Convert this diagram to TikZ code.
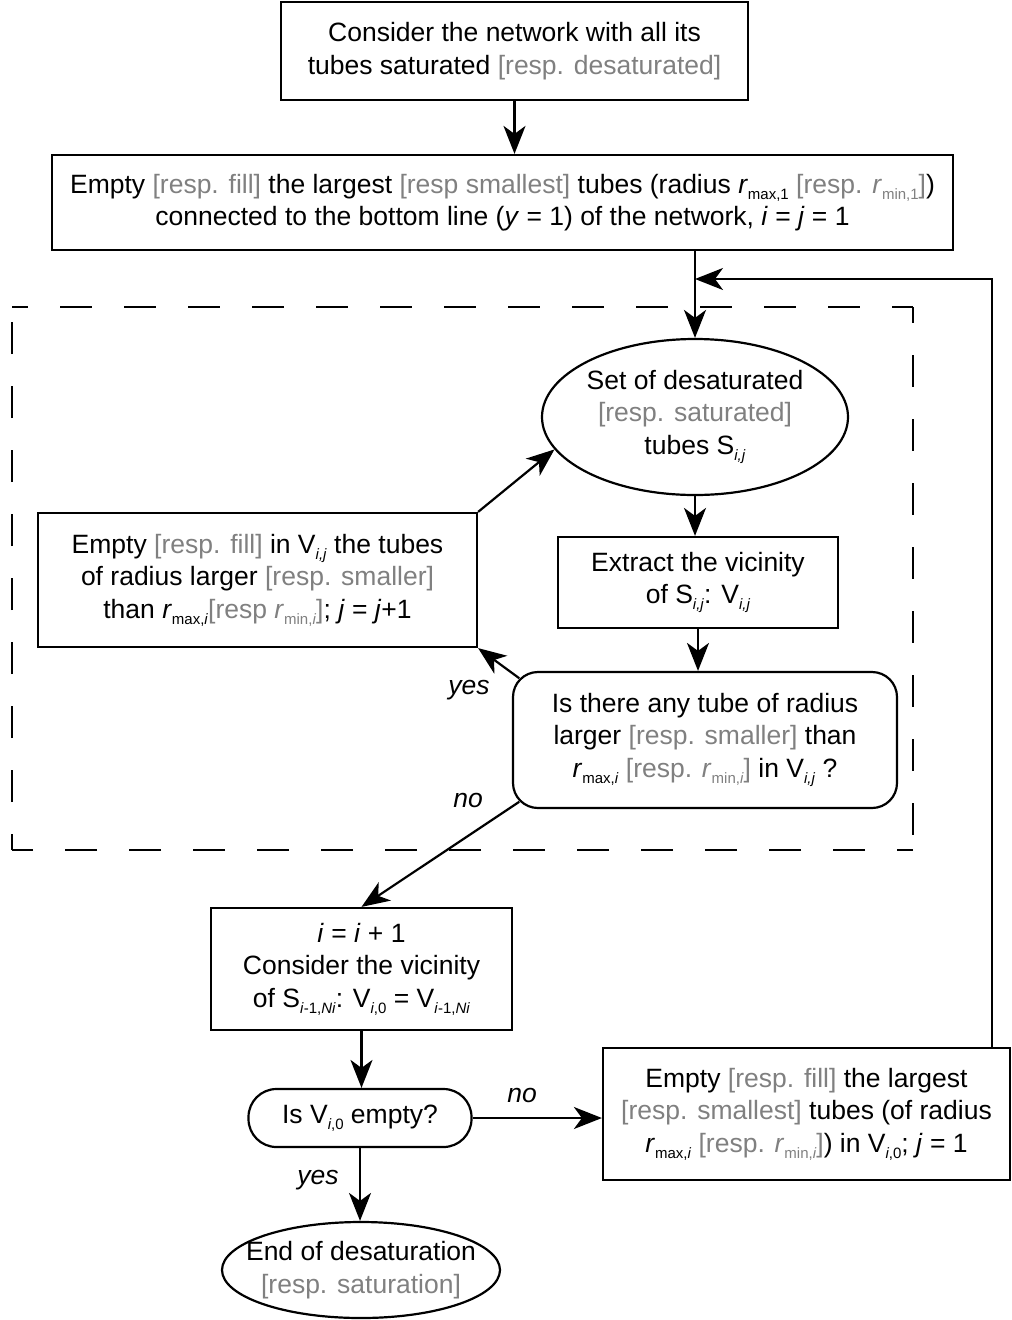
\documentclass[tikz,border=0pt]{standalone}
\usepackage{fontspec}
\setmainfont{Liberation Sans}
\usetikzlibrary{arrows.meta,shapes.geometric,calc}
\definecolor{respgray}{gray}{0.5}
\newcommand{\resp}[1]{\textcolor{respgray}{#1}}
\newcommand{\sbs}[1]{\raisebox{-0.45ex}{\fontsize{15}{15}\selectfont #1}}
\tikzset{
  box/.style={draw, line width=2.2pt, inner sep=0pt, align=center},
  roundbox/.style={box, rounded corners=25pt},
  pill/.style={box, rounded corners=28pt},
  ell/.style={draw, ellipse, line width=2.2pt, inner sep=-30pt, align=center},
  arr/.style={line width=2.2pt, -{Stealth[length=28pt,width=22pt,inset=8pt]}},
  frame/.style={line width=2.2pt, dash pattern=on 32pt off 32pt, dash phase=16pt},
  lbl/.style={font=\fontsize{26.5}{32.5}\selectfont\itshape},
}
\begin{document}
\begin{tikzpicture}[x=1pt, y=-1pt, font=\fontsize{26.5}{32.5}\selectfont]
  \useasboundingbox (0,0) rectangle (1012,1320);

  % dashed loop frame
  \draw[frame] (12,307) -- (913,307);
  \draw[frame] (913,307) -- (913,850);
  \draw[frame] (913,850) -- (12,850);
  \draw[frame] (12,850) -- (12,307);

  \node (start) at (514.5, 51) [box, minimum width=467, minimum height=98]
    {Consider the network with all its\\ tubes saturated \resp{[resp. desaturated]}};
  \node (first) at (502.5, 202.5) [box, minimum width=901, minimum height=95]
    {Empty \resp{[resp. fill]} the largest \resp{[resp smallest]} tubes (radius \textit{r}\sbs{max,1} \resp{[resp. \textit{r}\sbs{min,1}]})\\
     connected to the bottom line (\textit{y} = 1) of the network, \textit{i} = \textit{j} = 1};

  \node (setS) at (695, 417) [ell, minimum width=306, minimum height=156]
    {Set of desaturated\\ \resp{[resp. saturated]}\\ tubes S\sbs{\textit{i,j}}};
  \node (extract) at (698, 582.5) [box, minimum width=280, minimum height=91]
    {Extract the vicinity\\ of S\sbs{\textit{i,j}}: V\sbs{\textit{i,j}}};
  \node (isthere) at (705, 740) [roundbox, minimum width=384, minimum height=136]
    {Is there any tube of radius\\ larger \resp{[resp. smaller]} than\\
     \textit{r}\sbs{max,\textit{i}} \resp{[resp. \textit{r}\sbs{min,\textit{i}}]} in V\sbs{\textit{i,j}} ?};
  \node (emptyV) at (257.5, 580) [box, minimum width=439, minimum height=134]
    {Empty \resp{[resp. fill]} in V\sbs{\textit{i,j}} the tubes\\ of radius larger \resp{[resp. smaller]}\\
     than \textit{r}\sbs{max,\textit{i}}\resp{[resp \textit{r}\sbs{min,\textit{i}}]}; \textit{j} = \textit{j}+1};

  \node (inc) at (361.5, 969) [box, minimum width=301, minimum height=122]
    {\textit{i} = \textit{i} + 1\\ Consider the vicinity\\
     of S\sbs{\textit{i}-1,\textit{Ni}}: V\sbs{\textit{i},0} = V\sbs{\textit{i}-1,\textit{Ni}}};
  \node (isempty) at (360, 1118) [pill, minimum width=223, minimum height=58]
    {Is V\sbs{\textit{i},0} empty?};
  \node (fillnext) at (806.5, 1114) [box, minimum width=407, minimum height=132]
    {Empty \resp{[resp. fill]} the largest\\ \resp{[resp. smallest]} tubes (of radius\\
     \textit{r}\sbs{max,\textit{i}} \resp{[resp. \textit{r}\sbs{min,\textit{i}}]}) in V\sbs{\textit{i},0}; \textit{j} = 1};
  \node (finish) at (361, 1270) [ell, minimum width=278, minimum height=96]
    {End of desaturation\\ \resp{[resp. saturation]}};

  \coordinate (merge) at (695, 279);

  \node (yes1) at (469, 690) [lbl] {yes};
  \node (no1) at (468, 800) [lbl] {no};
  \node (no2) at (522, 1095) [lbl] {no};
  \node (yes2) at (318, 1180) [lbl] {yes};

  \draw[arr] (start.south) -- (start.south |- first.north);
  \draw[arr] (setS.north |- first.south) -- (setS.north);
  \draw[arr] ([xshift=-19pt]fillnext.north east) |- (merge);

  \draw[arr] (setS.south) -- (setS.south |- extract.north);
  \draw[arr] (extract.south) -- (extract.south |- isthere.north);
  \draw[arr] ($(isthere.north west)+(7.3,7.3)$) -- (emptyV.south east);
  \draw[arr] (emptyV.north east) -- (setS.193);
  \draw[arr] ($(isthere.south west)+(7.3,-7.3)$) -- (inc.north);

  \draw[arr] (inc.south) -- (inc.south |- isempty.north);
  \draw[arr] (isempty.east) -- (isempty.east -| fillnext.west);
  \draw[arr] (isempty.south) -- (isempty.south |- finish.north);

\end{tikzpicture}
\end{document}
